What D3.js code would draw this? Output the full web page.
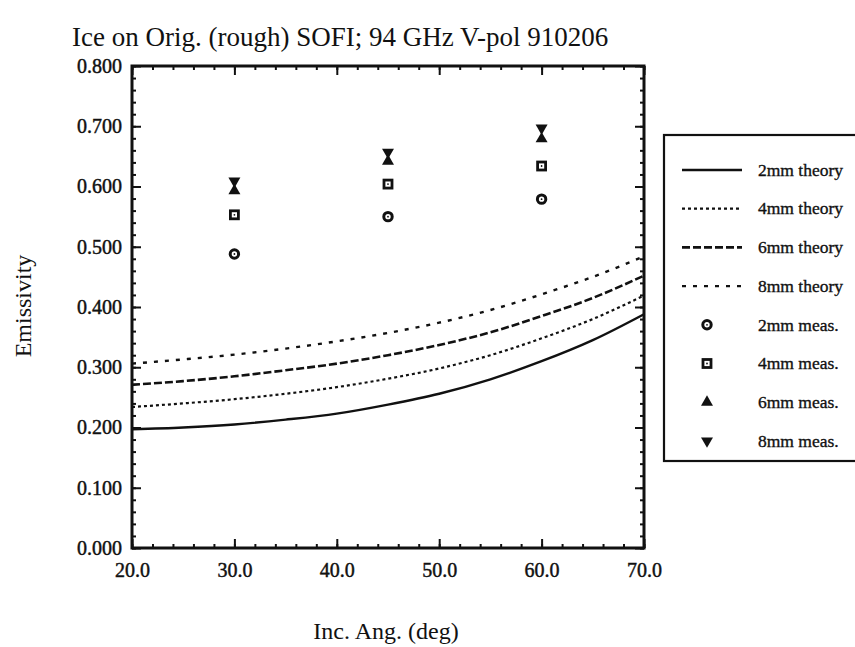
<!DOCTYPE html>
<html lang="en">
<head>
<meta charset="UTF-8"/>
<title>Ice on Orig. (rough) SOFI; 94 GHz V-pol 910206</title>
<script src="https://d3js.org/d3.v7.min.js"></script>
<style>
  body { margin: 0; background: #fff; }
  text { font-family: "Liberation Serif", "Times New Roman", serif; fill: #111; }
</style>
</head>
<body>
<script>
// theory curves, sampled every 5 deg
var angles   = [20, 25, 30, 35, 40, 45, 50, 55, 60, 65, 70];
var theory2  = [0.197, 0.200, 0.205, 0.213, 0.223, 0.238, 0.256, 0.280, 0.310, 0.345, 0.388];
var theory4  = [0.234, 0.240, 0.247, 0.256, 0.267, 0.281, 0.298, 0.320, 0.348, 0.380, 0.419];
var theory6  = [0.271, 0.277, 0.285, 0.295, 0.306, 0.320, 0.337, 0.358, 0.385, 0.415, 0.452];
var theory8  = [0.306, 0.313, 0.321, 0.331, 0.343, 0.357, 0.374, 0.395, 0.421, 0.450, 0.484];

// measurements
var measAngles = [30, 45, 60];
var meas2 = [0.488, 0.550, 0.579];
var meas4 = [0.553, 0.604, 0.634];
var meas6 = [0.593, 0.642, 0.679];
var meas8 = [0.609, 0.657, 0.697];

var xTicks = [20, 30, 40, 50, 60, 70];
var yTicks = [0, 0.1, 0.2, 0.3, 0.4, 0.5, 0.6, 0.7, 0.8];

var w = 855, h = 647;
var pLeft = 132, pRight = 644, pTop = 66, pBottom = 548;

var svg = d3.select("body").append("svg")
    .attr("width", w)
    .attr("height", h);

var x = d3.scaleLinear().domain([20, 70]).range([pLeft, pRight]);
var y = d3.scaleLinear().domain([0, 0.8]).range([pBottom, pTop]);

var xMinor = d3.range(20, 70.01, 2);
var yMinor = d3.range(0, 0.801, 0.02);

function styleAxis(g) {
    g.select(".domain").remove();
    g.selectAll("line").attr("stroke", "#111").attr("stroke-width", 2);
    g.selectAll("text").attr("font-size", "20px")
        .attr("stroke", "#111").attr("stroke-width", 0.45);
}

// minor ticks, all four sides
svg.append("g").attr("transform", "translate(0," + pBottom + ")")
    .call(d3.axisBottom(x).tickValues(xMinor).tickSize(-4).tickFormat("")).call(styleAxis);
svg.append("g").attr("transform", "translate(0," + pTop + ")")
    .call(d3.axisTop(x).tickValues(xMinor).tickSize(-4).tickFormat("")).call(styleAxis);
svg.append("g").attr("transform", "translate(" + pLeft + ",0)")
    .call(d3.axisLeft(y).tickValues(yMinor).tickSize(-4).tickFormat("")).call(styleAxis);
svg.append("g").attr("transform", "translate(" + pRight + ",0)")
    .call(d3.axisRight(y).tickValues(yMinor).tickSize(-4).tickFormat("")).call(styleAxis);

// major ticks
svg.append("g").attr("transform", "translate(0," + pBottom + ")")
    .call(d3.axisBottom(x).tickValues(xTicks).tickSize(-9).tickPadding(15).tickFormat(d3.format(".1f")))
    .call(styleAxis);
svg.append("g").attr("transform", "translate(0," + pTop + ")")
    .call(d3.axisTop(x).tickValues(xTicks).tickSize(-9).tickFormat("")).call(styleAxis);
svg.append("g").attr("transform", "translate(" + pLeft + ",0)")
    .call(d3.axisLeft(y).tickValues(yTicks).tickSize(-9).tickPadding(10).tickFormat(d3.format(".3f")))
    .call(styleAxis);
svg.append("g").attr("transform", "translate(" + pRight + ",0)")
    .call(d3.axisRight(y).tickValues(yTicks).tickSize(-9).tickFormat("")).call(styleAxis);

// frame
svg.append("rect")
    .attr("x", pLeft).attr("y", pTop)
    .attr("width", pRight - pLeft).attr("height", pBottom - pTop)
    .attr("fill", "none").attr("stroke", "#111").attr("stroke-width", 3);

// theory lines
var series = [
    {name: "2mm theory", vals: theory2, dash: null, sw: 2.4},
    {name: "4mm theory", vals: theory4, dash: "3,3", sw: 2.2},
    {name: "6mm theory", vals: theory6, dash: "8,3", sw: 2.6},
    {name: "8mm theory", vals: theory8, dash: "4,7", sw: 2.4}
];

var line = d3.line()
    .x(function(d, i) { return x(angles[i]); })
    .y(function(d) { return y(d); })
    .curve(d3.curveMonotoneX);

svg.selectAll("path.theory")
    .data(series)
    .enter()
    .append("path")
    .attr("class", "theory")
    .attr("d", function(d) { return line(d.vals); })
    .attr("fill", "none")
    .attr("stroke", "#111")
    .attr("stroke-width", function(d) { return d.sw; })
    .attr("stroke-dasharray", function(d) { return d.dash; });

// markers
function drawMarker(g, kind) {
    if (kind == "circle") {
        g.append("circle").attr("r", 4.2).attr("fill", "#fff").attr("stroke", "#111").attr("stroke-width", 3);
        g.append("circle").attr("r", 0.9).attr("fill", "#111");
    } else if (kind == "square") {
        g.append("rect").attr("x", -4).attr("y", -4).attr("width", 8).attr("height", 8)
            .attr("fill", "#fff").attr("stroke", "#111").attr("stroke-width", 2.8);
        g.append("circle").attr("r", 0.9).attr("fill", "#111");
    } else if (kind == "up") {
        g.append("path").attr("d", d3.symbol(d3.symbolTriangle, 62)()).attr("fill", "#111");
    } else {
        g.append("path").attr("d", d3.symbol(d3.symbolTriangle, 62)())
            .attr("transform", "rotate(180)").attr("fill", "#111");
    }
}

var measured = [
    {name: "2mm meas.", vals: meas2, kind: "circle"},
    {name: "4mm meas.", vals: meas4, kind: "square"},
    {name: "6mm meas.", vals: meas6, kind: "up"},
    {name: "8mm meas.", vals: meas8, kind: "down"}
];

measured.forEach(function(s) {
    s.vals.forEach(function(v, i) {
        var g = svg.append("g")
            .attr("transform", "translate(" + x(measAngles[i]) + "," + y(v) + ")");
        drawMarker(g, s.kind);
    });
});

// titles
svg.append("text")
    .attr("x", 72).attr("y", 46)
    .attr("font-size", "27px")
    .text("Ice on Orig. (rough) SOFI; 94 GHz V-pol 910206");

svg.append("text")
    .attr("x", (pLeft + pRight) / 2 - 2).attr("y", 639)
    .attr("text-anchor", "middle")
    .attr("font-size", "24px")
    .text("Inc. Ang. (deg)");

svg.append("text")
    .attr("transform", "translate(31,306) rotate(-90)")
    .attr("text-anchor", "middle")
    .attr("font-size", "24px")
    .text("Emissivity");

// legend
var legX = 664, legY = 135, rowH = 38.7, row0 = 170;
svg.append("rect")
    .attr("x", legX).attr("y", legY)
    .attr("width", 220).attr("height", 326)
    .attr("fill", "#fff").attr("stroke", "#111").attr("stroke-width", 2.2);

var legItems = series.map(function(s) { return {name: s.name, line: s}; })
    .concat(measured.map(function(s) { return {name: s.name, mark: s.kind}; }));

legItems.forEach(function(d, i) {
    var cy = row0 + i * rowH;
    if (d.line) {
        svg.append("line")
            .attr("x1", 682).attr("x2", 742).attr("y1", cy).attr("y2", cy)
            .attr("stroke", "#111")
            .attr("stroke-width", d.line.sw)
            .attr("stroke-dasharray", d.line.dash);
    } else {
        var g = svg.append("g").attr("transform", "translate(707," + cy + ")");
        drawMarker(g, d.mark);
    }
    svg.append("text")
        .attr("x", 758).attr("y", cy)
        .attr("dy", "0.33em")
        .attr("font-size", "17.5px")
        .attr("stroke", "#111").attr("stroke-width", 0.35)
        .text(d.name);
});
</script>
</body>
</html>
